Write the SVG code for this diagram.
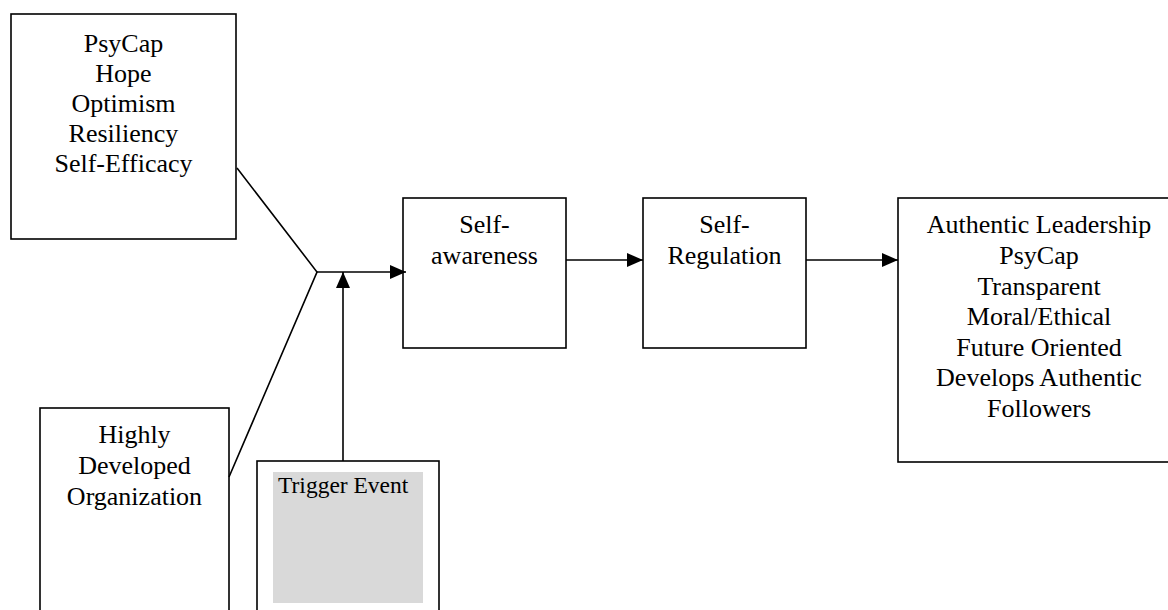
<svg xmlns="http://www.w3.org/2000/svg" width="1168" height="610" viewBox="0 0 1168 610">
<style>
.box{fill:#fff;stroke:#000;stroke-width:1.6}
.t{font-family:"Liberation Serif","Times New Roman",serif;font-size:26px;fill:#000;text-anchor:middle}
.ln{stroke:#000;stroke-width:1.6;fill:none}
</style>
<defs>
<marker id="ah" viewBox="0 0 16 14" refX="16" refY="7" markerWidth="16" markerHeight="14" markerUnits="userSpaceOnUse" orient="auto">
<path d="M0,0 L16,7 L0,14 Z" fill="#000"/>
</marker>
</defs>
<rect width="1168" height="610" fill="#fff"/>
<g id="psycap">
<rect class="box" x="11" y="14" width="225" height="225"/>
<text class="t" x="123.5" y="52">PsyCap</text>
<text class="t" x="123.5" y="82">Hope</text>
<text class="t" x="123.5" y="112">Optimism</text>
<text class="t" x="123.5" y="142">Resiliency</text>
<text class="t" x="123.5" y="172">Self-Efficacy</text>
</g>
<g id="organization">
<rect class="box" x="40" y="408" width="189" height="220"/>
<text class="t" x="134.5" y="443">Highly</text>
<text class="t" x="134.5" y="474">Developed</text>
<text class="t" x="134.5" y="505">Organization</text>
</g>
<g id="trigger">
<rect class="box" x="257" y="461" width="182" height="170"/>
<rect x="273" y="472" width="150" height="131" fill="#d9d9d9"/>
<text x="278" y="493" font-family="Liberation Serif,Times New Roman,serif" font-size="23.5" fill="#000">Trigger Event</text>
</g>
<g id="selfawareness">
<rect class="box" x="403" y="198" width="163" height="150"/>
<text class="t" x="484.5" y="233">Self-</text>
<text class="t" x="484.5" y="264">awareness</text>
</g>
<g id="selfregulation">
<rect class="box" x="643" y="198" width="163" height="150"/>
<text class="t" x="724.5" y="233">Self-</text>
<text class="t" x="724.5" y="264">Regulation</text>
</g>
<g id="authentic">
<rect class="box" x="898" y="198" width="290" height="264"/>
<text class="t" x="1039" y="233">Authentic Leadership</text>
<text class="t" x="1039" y="264">PsyCap</text>
<text class="t" x="1039" y="295">Transparent</text>
<text class="t" x="1039" y="325">Moral/Ethical</text>
<text class="t" x="1039" y="356">Future Oriented</text>
<text class="t" x="1039" y="386">Develops Authentic</text>
<text class="t" x="1039" y="417">Followers</text>
</g>
<g id="connectors">
<polyline class="ln" points="237,168 317,272 229,477"/>
<line class="ln" x1="317" y1="272" x2="406" y2="272" marker-end="url(#ah)"/>
<line class="ln" x1="343" y1="461" x2="343" y2="272" marker-end="url(#ah)"/>
<line class="ln" x1="566" y1="260" x2="643" y2="260" marker-end="url(#ah)"/>
<line class="ln" x1="806" y1="260" x2="898" y2="260" marker-end="url(#ah)"/>
</g>
</svg>
